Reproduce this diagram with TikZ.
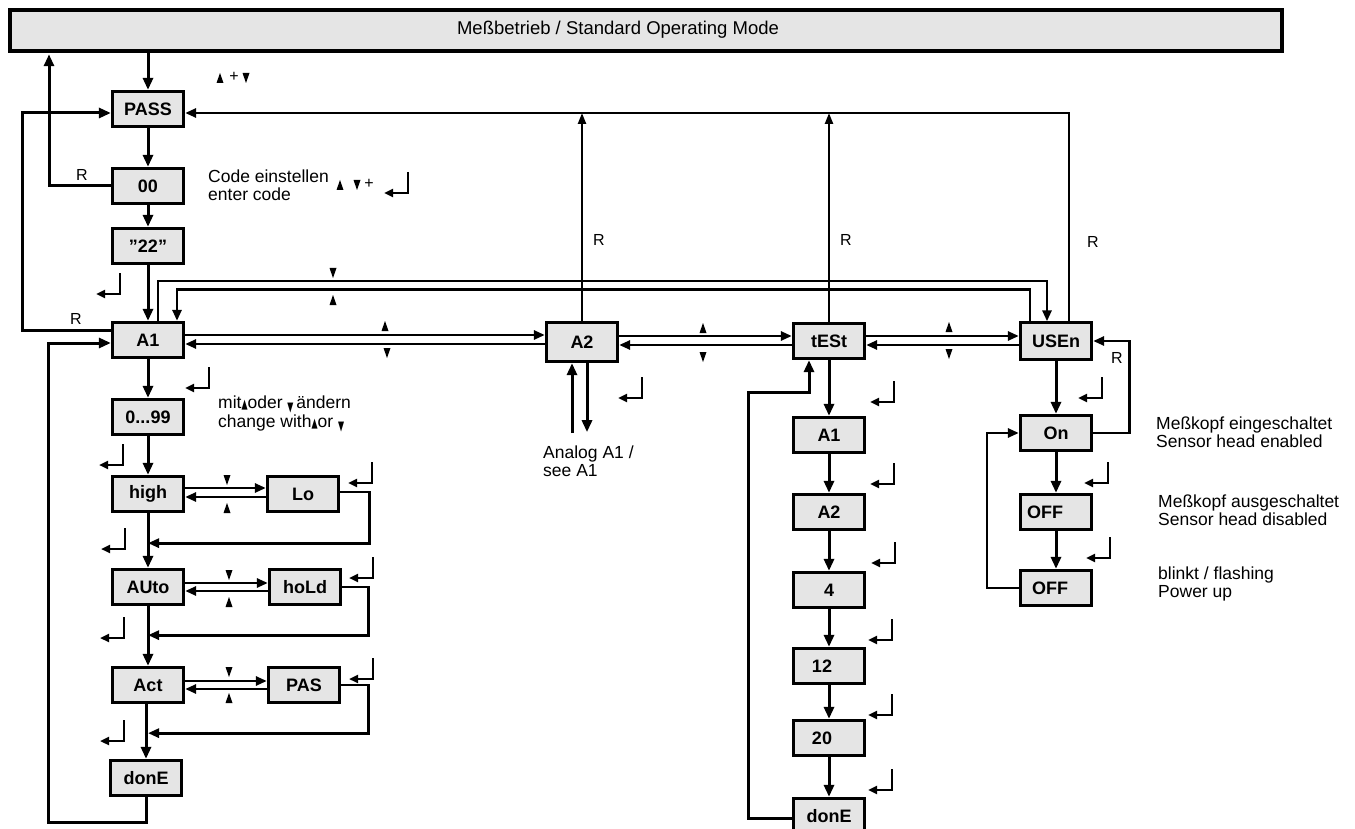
\documentclass[tikz,border=0pt]{standalone}
\usepackage{graphicx}
\usepackage{fontspec}
\setmainfont{Liberation Sans}
\newfontfamily\djv{DejaVu Sans}
\usetikzlibrary{arrows.meta,calc}
\newcommand\tup{\scalebox{0.45}[0.75]{\djv ▲}}
\newcommand\tdn{\raisebox{-3pt}{\scalebox{0.45}[0.75]{\djv ▼}}}
\begin{document}
\begin{tikzpicture}[x=1pt,y=-1pt,
  box/.style={draw,fill=black!10,line width=2.8pt,minimum width=71.5pt,minimum height=35.5pt,inner sep=0pt,font=\fontsize{18}{18}\selectfont\bfseries},
  arr/.style={line width=3pt,-{Triangle[length=12pt,width=10pt]}},
  arrh/.style={line width=2.7pt,-{Triangle[length=11pt,width=9pt]}},
  arrt/.style={line width=2.3pt,-{Triangle[length=11pt,width=8pt]}},
  txt/.style={font=\fontsize{17.5}{18.5}\selectfont,align=left,anchor=west,inner sep=0pt},
  rlab/.style={font=\fontsize{16}{16}\selectfont,inner sep=0pt},
  tu/.pic={\fill (-3.5,5)--(3.5,5)--(0,-5)--cycle;},
  td/.pic={\fill (-3.5,-5)--(3.5,-5)--(0,5)--cycle;},
  ent/.pic={\draw[line width=2.4pt,-{Triangle[length=9pt,width=8pt]}] (0,-21)--(0,0)--(-24,0);},
]
\useasboundingbox (0,0) rectangle (1355,829);
\fill[white] (0,0) rectangle (1355,829);
\clip (0,0) rectangle (1355,829);

% top bar
\node[draw,fill=black!10,line width=4pt,minimum width=1272pt,minimum height=41.5pt,inner sep=0pt] (bar) at (646,30.5) {};
\node[font=\fontsize{18.5}{18.5}\selectfont,inner sep=0pt] (bartxt) at (618,30) {Meßbetrieb / Standard Operating Mode};

% left column
\node[box] (pass) at (148,109) {PASS};
\node[box] (c00) at (148,186) {00};
\node[box] (c22) at (148,246) {\symbol{34}22\symbol{34}};
\node[box] (a1) at (148,340) {A1};
\node[box] (r099) at (148,417) {0...99};
\node[box] (high) at (148,494) {high};
\node[box] (lo) at (303,494) {Lo};
\node[box] (auto) at (148,587) {AUto};
\node[box] (hold) at (305,587) {hoLd};
\node[box] (act) at (148,685) {Act};
\node[box] (pas) at (304,685) {PAS};
\node[box] (done1) at (146,778) {donE};

% top row
\node[box,minimum height=39.5pt] (a2) at (582,342) {A2};
\node[box] (test) at (829,341) {tESt};
\node[box,minimum height=36.5pt] (usen) at (1056,341) {\raisebox{-6pt}{USEn}};

% test column
\node[box] (ta1) at (829,435) {A1};
\node[box] (ta2) at (829,512) {A2};
\node[box] (t4) at (829,590) {4};
\node[box] (t12) at (829,666) {\hspace*{-14pt}12};
\node[box] (t20) at (829,738) {\hspace*{-14pt}20};
\node[box] (tdone) at (829,816) {donE};

% USEn column
\node[box] (on) at (1056,433) {On};
\node[box] (off1) at (1056,512) {\hspace*{-22pt}OFF};
\node[box] (off2) at (1056,588) {\hspace*{-12pt}OFF};

% ---- connectors left
\draw[arr] (pass.north |- bar.south) -- (pass.north);
\draw[arr] (pass.south) -- (c00.north);
\draw[arr] (c00.south) -- (c22.north);
\draw[arr] (c22.south) -- (a1.north);
\draw[arr] (c00.west) -| ([xshift=41pt,yshift=-1pt]bar.south west);
\draw[arr] ([yshift=10pt]a1.west) -- ++(-88,0) |- ([yshift=-4pt]pass.west);
\draw[arr] (done1.south) -- ++(0,25) -| ([xshift=-62pt,yshift=-3pt]a1.west) -- ([yshift=-3pt]a1.west);
\draw[arr] (a1.south) -- (r099.north);
\draw[arr] (r099.south) -- (high.north);
\draw[arr] (high.south) -- (auto.north);
\draw[arr] (auto.south) -- (act.north);
\draw[arr] (done1.north |- act.south) -- (done1.north);

\draw[arrh] ([yshift=6pt]high.east) -- ([yshift=6pt]lo.west);
\draw[arrh] ([yshift=-3pt]lo.west) -- ([yshift=-3pt]high.east);
\draw[arrh] ([yshift=4pt]auto.east) -- ([yshift=4pt]hold.west);
\draw[arrh] ([yshift=-4pt]hold.west) -- ([yshift=-4pt]auto.east);
\draw[arrh] ([yshift=4pt]act.east) -- ([yshift=4pt]pas.west);
\draw[arrh] ([yshift=-4pt]pas.west) -- ([yshift=-4pt]act.east);

\draw[arrh] ([yshift=2pt]lo.east) -- ++(29,0) |- ([yshift=-30pt]high.south);
\draw[arrh] (hold.east) -- ++(26,0) |- ([yshift=-29pt]auto.south);
\draw[arrh] (pas.east) -- ++(27,0) |- ([yshift=-29pt]act.south);

% ---- top row connectors
\draw[arrh] ([yshift=5pt]a1.east) -- ([yshift=7pt]a2.west);
\draw[arrh] ([yshift=-2pt]a2.west) -- ([yshift=-4pt]a1.east);
\draw[arrh] ([yshift=6pt]a2.east) -- ([yshift=5pt]test.west);
\draw[arrh] ([yshift=-4pt]test.west) -- ([yshift=-3pt]a2.east);
\draw[arrh] ([yshift=5pt]test.east) -- ([yshift=5pt]usen.west);
\draw[arrh] ([yshift=-4pt]usen.west) -- ([yshift=-4pt]test.east);

\draw[arrh] ([xshift=10pt]a1.north) -- ++(0,-40) -| ([xshift=-9pt]usen.north);
\draw[arrh] ([xshift=-26pt]usen.north) -- ++(0,-32) -| ([xshift=29pt]a1.north);

\coordinate (rl) at ([yshift=-4pt]pass.east);
\draw[arrh] ([xshift=13pt]usen.north) |- (rl);
\draw[arrt] (a2.north) -- (a2.north |- rl);
\draw[arrt] (test.north) -- (test.north |- rl);

\draw[arr] ([xshift=-10pt,yshift=-70pt]a2.south) -- ([xshift=-10pt]a2.south);
\draw[arr] ([xshift=5pt]a2.south) -- ++(0,69);

% ---- test column
\draw[arr] (test.south) -- (ta1.north);
\draw[arr] (ta1.south) -- (ta2.north);
\draw[arr] (ta2.south) -- (t4.north);
\draw[arr] (t4.south) -- (t12.north);
\draw[arr] (t12.south) -- (t20.north);
\draw[arr] (t20.south) -- (tdone.north);
\draw[arr] ([yshift=-2pt]tdone.west) -| ([xshift=-81pt,yshift=-32pt]test.south) -| ([xshift=-20pt]test.south);

% ---- USEn column
\draw[arr] (usen.south) -- (on.north);
\draw[arr] (on.south) -- (off1.north);
\draw[arr] (off1.south) -- (off2.north);
\draw[arrh] (on.east) -- ++(36,0) |- (usen.east);
\draw[arrh] (off2.west) -- ++(-32,0) |- (on.west);

% ---- triangles
\pic at (220,78) {tu}; \pic at (246,78) {td};
\node[font=\fontsize{16}{16}\selectfont,inner sep=0pt] (plus1) at (234,77) {+};
\pic at (340,185) {tu}; \pic at (357,185) {td};
\node[font=\fontsize{16}{16}\selectfont,inner sep=0pt] (plus2) at (369,184) {+};
\pic at (333,273) {td}; \pic at (333,300) {tu};
\pic at (385,326) {tu}; \pic at (387,353) {td};
\pic at (703,328) {tu}; \pic at (703,357) {td};
\pic at (949,327) {tu}; \pic at (949,354) {td};
\pic at (227,480) {td}; \pic at (227,508) {tu};
\pic at (229,575) {td}; \pic at (229,602) {tu};
\pic at (229,672) {td}; \pic at (229,698) {tu};

% ---- enter symbols
\foreach \p in {(408,193),(120,294),(209,388),(123,465),(372,483),(125,549),(373,578),(124,638),(373,679),(124,741),(642,398),(894,402),(894,484),(895,563),(892,640),(892,715),(892,790),(1102,398),(1108,483),(1110,558)}
  \pic at \p {ent};

% ---- texts
\node[txt] (codetxt) at (208,185) {Code einstellen\\enter code};
\node[txt] (mittxt) at (218,414) {mit\tup oder \tdn\,ändern\\change with\tup or \tdn};
\node[txt] (analog) at (543,461) {Analog A1 /\\see A1};
\node[txt] (ein) at (1156,432) {Meßkopf eingeschaltet\\Sensor head enabled};
\node[txt] (aus) at (1158,510) {Meßkopf ausgeschaltet\\Sensor head disabled};
\node[txt] (blink) at (1158,584) {blinkt / flashing\\Power up};

\node[rlab] (r1) at (82,175) {R};
\node[rlab] (r2) at (76,319) {R};
\node[rlab] (r3) at (599,240) {R};
\node[rlab] (r4) at (846,240) {R};
\node[rlab] (r5) at (1093,242) {R};
\node[rlab] (r6) at (1117,358) {R};
\end{tikzpicture}
\end{document}
